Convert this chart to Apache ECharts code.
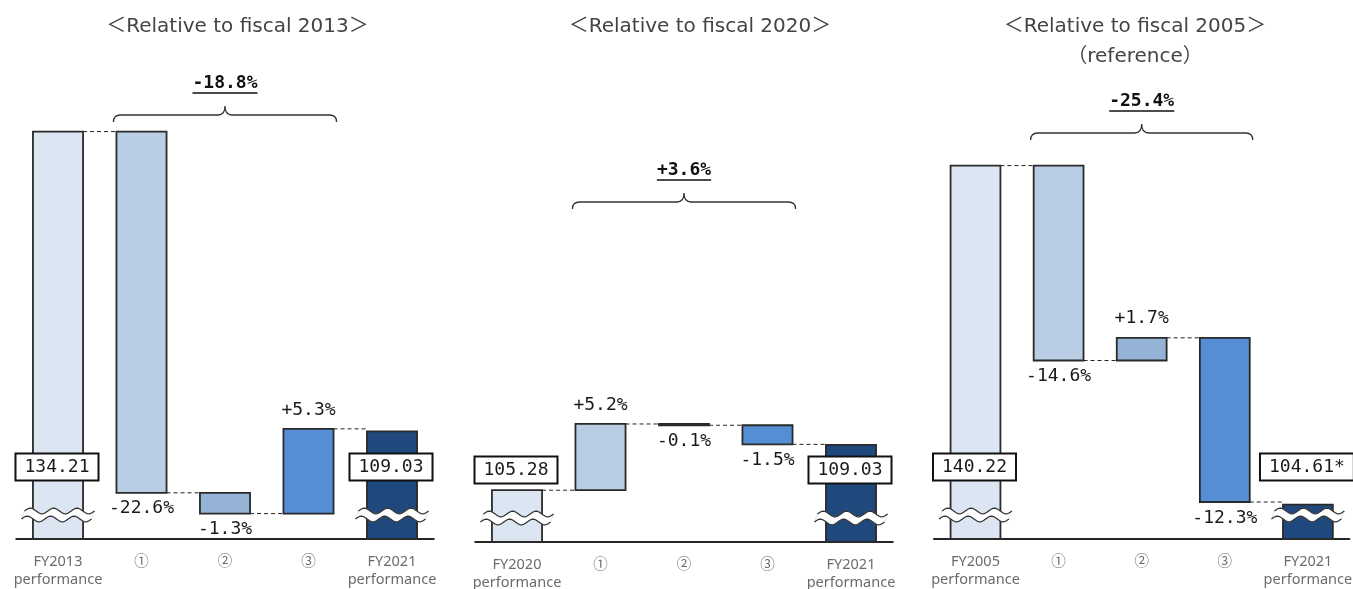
<!DOCTYPE html>
<html>
<head>
<meta charset="utf-8">
<script src="https://cdn.jsdelivr.net/npm/echarts@6/dist/echarts.min.js"></script>
<style>
  html, body { margin: 0; padding: 0; background: #ffffff; }
  #chart { width: 1353px; height: 589px; }
</style>
</head>
<body>
<div id="chart"></div>
<script>
// ---- data ----
const categories2013 = ['FY2013\nperformance', '①', '②', '③', 'FY2021\nperformance'];
const categories2020 = ['FY2020\nperformance', '①', '②', '③', 'FY2021\nperformance'];
const categories2005 = ['FY2005\nperformance', '①', '②', '③', 'FY2021\nperformance'];

const panelTitles = [
  ['＜Relative to fiscal 2013＞'],
  ['＜Relative to fiscal 2020＞'],
  ['＜Relative to fiscal 2005＞', '（reference）']
];

// emissions in the base year and in FY2021
const baseValues = [134.21, 105.28, 140.22];
const finalValues = [109.03, 109.03, 104.61];
const finalMarks = ['', '', '*'];

// change contributed by factors ①②③, in % of the base year
const factors2013 = [-22.6, -1.3, 5.3];
const factors2020 = [5.2, -0.1, -1.5];
const factors2005 = [-14.6, 1.7, -12.3];

// overall change
const totalChanges = [-18.8, 3.6, -25.4];

// ---- layout & style ----
const layout = [
  { left: 16.25, width: 417.5, top: 62.6, height: 476.4, min: 100, max: 140, titleX: 237.5, braceY: 115 },
  { left: 475.25, width: 417.5, top: 106.4, height: 435.6, min: 101, max: 137, titleX: 700, braceY: 202 },
  { left: 933.95, width: 415.5, top: 72.5, height: 466.5, min: 101, max: 150, titleX: 1135, braceY: 133 }
];
const BAR_RATIO = 0.6;
const barColors = ['#DCE6F2', '#B9CDE5', '#95B3D7', '#558ED5', '#1F497D'];
const edgeColor = '#2a2a2a';
const monoFont = '18px "DejaVu Sans Mono", "Liberation Mono", monospace';
const monoBold = 'bold 18px "DejaVu Sans Mono", "Liberation Mono", monospace';
const titleFont = '20px "DejaVu Sans", "Noto Sans CJK JP", sans-serif';

const panels = [
  { categories: categories2013, factors: factors2013 },
  { categories: categories2020, factors: factors2020 },
  { categories: categories2005, factors: factors2005 }
];

function fmtPct(v) {
  return (v > 0 ? '+' : '') + v.toFixed(1) + '%';
}

const measureCtx = document.createElement('canvas').getContext('2d');
function textWidth(text, font) {
  measureCtx.font = font;
  return measureCtx.measureText(text).width;
}

// waterfall rows: [category index, low, high, pct, kind(0 = total bar, 1 = step)]
function buildWaterfall(p) {
  const base = baseValues[p], lo = layout[p].min;
  const rows = [[0, lo, base, 0, 0]];
  const links = [[0, base]];
  let level = base;
  panels[p].factors.forEach((pct, k) => {
    const next = level + base * pct / 100;
    rows.push([k + 1, Math.min(level, next), Math.max(level, next), pct, 1]);
    links.push([k + 1, next]);
    level = next;
  });
  rows.push([4, lo, finalValues[p], 0, 0]);
  return { rows, links };
}

// wavy break band across a truncated bar
function breakBand(cx, cy, bw) {
  const x0 = cx - bw / 2 - 10, x1 = cx + bw / 2 + 10;
  const n = 48, amp = 2.8, gap = 4, periods = 3;
  const topPts = [], botPts = [];
  for (let k = 0; k <= n; k++) {
    const t = k / n;
    const x = x0 + (x1 - x0) * t;
    const s = -Math.sin(t * periods * 2 * Math.PI) * amp;
    topPts.push([x + 1.5, cy - gap + s]);
    botPts.push([x - 1.5, cy + gap + s]);
  }
  return {
    type: 'group',
    children: [
      { type: 'polygon', shape: { points: topPts.concat(botPts.slice().reverse()) }, style: { fill: '#ffffff', stroke: '#d0d0d0', lineWidth: 0.6 } },
      { type: 'polyline', shape: { points: topPts }, style: { fill: null, stroke: '#333333', lineWidth: 1.3 } },
      { type: 'polyline', shape: { points: botPts }, style: { fill: null, stroke: '#333333', lineWidth: 1.3 } }
    ]
  };
}

function barRenderer(p) {
  return function (params, api) {
    const i = api.value(0), lo = api.value(1), hi = api.value(2), pct = api.value(3), kind = api.value(4);
    const top = api.coord([i, hi]);
    const bot = api.coord([i, lo]);
    const bw = api.size([1, 0])[0] * BAR_RATIO;
    const cx = top[0];
    const children = [{
      type: 'rect',
      shape: { x: cx - bw / 2, y: top[1], width: bw, height: Math.max(bot[1] - top[1], 0.6) },
      style: { fill: barColors[i], stroke: edgeColor, lineWidth: 1.8 }
    }];
    if (kind === 1) {
      children.push({
        type: 'text', x: cx, y: pct > 0 ? top[1] - 19 : bot[1] + 16,
        style: { text: fmtPct(pct), font: monoFont, fill: '#1a1a1a', align: 'center', verticalAlign: 'middle', textAlign: 'center', textVerticalAlign: 'middle' }
      });
    } else {
      const axisY = params.coordSys.y + params.coordSys.height;
      const value = i === 0 ? baseValues[p] : finalValues[p];
      const text = value.toFixed(2) + (i === 0 ? '' : finalMarks[p]);
      children.push(breakBand(cx, axisY - 24, bw));
      children.push({
        type: 'text', x: cx - 1, y: axisY - 72, z2: 10,
        style: {
          text: text, font: monoFont, fill: '#1a1a1a', align: 'center', verticalAlign: 'middle',
          textAlign: 'center', textVerticalAlign: 'middle',
          backgroundColor: '#ffffff', borderColor: '#111111', borderWidth: 2, padding: [3, 8, 3, 8], lineHeight: 19
        }
      });
    }
    return { type: 'group', children };
  };
}

function linkRenderer(params, api) {
  const i = api.value(0), level = api.value(1);
  const a = api.coord([i, level]);
  const b = api.coord([i + 1, level]);
  const bw = api.size([1, 0])[0] * BAR_RATIO;
  return {
    type: 'line',
    shape: { x1: a[0] + bw / 2, y1: a[1], x2: b[0] - bw / 2, y2: a[1] },
    style: { stroke: '#222222', lineWidth: 1, lineDash: [4, 3] }
  };
}

function braceRenderer(p) {
  return function (params, api) {
    const a = api.coord([api.value(0), layout[p].min]);
    const b = api.coord([api.value(1), layout[p].min]);
    const bw = api.size([1, 0])[0] * BAR_RATIO;
    const x1 = a[0] - bw / 2 - 3, x2 = b[0] + bw / 2 + 3, xm = (x1 + x2) / 2;
    const y = layout[p].braceY;
    const d = `M${x1},${y + 7} Q${x1},${y} ${x1 + 7},${y} L${xm - 7},${y} Q${xm},${y} ${xm},${y - 9} ` +
              `Q${xm},${y} ${xm + 7},${y} L${x2 - 7},${y} Q${x2},${y} ${x2},${y + 7}`;
    const label = fmtPct(totalChanges[p]);
    const w = textWidth(label, monoBold);
    return {
      type: 'group',
      children: [
        { type: 'path', shape: { pathData: d }, style: { fill: null, stroke: '#333333', lineWidth: 1.3 } },
        { type: 'text', x: xm, y: y - 32, style: { text: label, font: monoBold, fill: '#111111', align: 'center', verticalAlign: 'middle', textAlign: 'center', textVerticalAlign: 'middle' } },
        { type: 'line', shape: { x1: xm - w / 2, y1: y - 22, x2: xm + w / 2, y2: y - 22 }, style: { stroke: '#111111', lineWidth: 1.5 } }
      ]
    };
  };
}

const grid = [], xAxis = [], yAxis = [], series = [], graphic = [];
panels.forEach((panel, p) => {
  const L = layout[p];
  grid.push({ left: L.left, width: L.width, top: L.top, height: L.height, containLabel: false, outerBoundsMode: 'none' });
  xAxis.push({
    type: 'category', gridIndex: p, data: panel.categories,
    axisLine: { show: true, lineStyle: { color: '#262626', width: 2 } },
    axisTick: { show: false },
    axisLabel: { color: '#6b6b6b', fontSize: 14.5, lineHeight: 18, margin: 14, fontFamily: '"Noto Sans", "Noto Sans CJK JP", sans-serif', interval: 0 }
  });
  yAxis.push({ type: 'value', gridIndex: p, min: L.min, max: L.max, show: false, splitLine: { show: false } });

  const wf = buildWaterfall(p);
  series.push({
    type: 'custom', xAxisIndex: p, yAxisIndex: p, data: wf.links.slice(0, 4),
    encode: { x: 0, y: 1 }, renderItem: linkRenderer, z: 1, silent: true
  });
  series.push({
    type: 'custom', xAxisIndex: p, yAxisIndex: p, data: wf.rows,
    encode: { x: 0, y: [1, 2] }, renderItem: barRenderer(p), z: 2, silent: true
  });
  series.push({
    type: 'custom', xAxisIndex: p, yAxisIndex: p, data: [[1, 3]],
    encode: { x: [0, 1] }, renderItem: braceRenderer(p), z: 3, silent: true
  });

  panelTitles[p].forEach((line, k) => {
    graphic.push({
      type: 'text', x: L.titleX, y: 27 + k * 30,
      style: { text: line, font: titleFont, fill: '#444444', align: 'center', verticalAlign: 'middle', textAlign: 'center', textVerticalAlign: 'middle' }
    });
  });
});

const chart = echarts.init(document.getElementById('chart'), null, { renderer: 'canvas' });
chart.setOption({
  animation: false,
  backgroundColor: '#ffffff',
  grid, xAxis, yAxis, series, graphic
});
</script>
</body>
</html>
